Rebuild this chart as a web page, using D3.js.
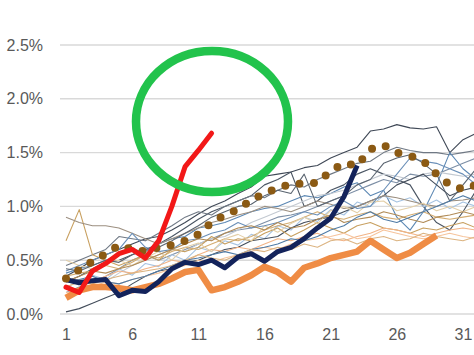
<!DOCTYPE html>
<html><head><meta charset="utf-8">
<script src="https://cdn.jsdelivr.net/npm/d3@7"></script>
<style>
html,body{margin:0;padding:0;background:#fff;}
svg{display:block;}
text{font-family:"Liberation Sans",Arial,sans-serif;fill:#595959;}
</style></head>
<body>
<svg id="c" width="474" height="355"></svg>
<script>
// ---- data (values in %) ----
const xTicks = [1, 6, 11, 16, 21, 26, 31];
const yTicks = [0, 0.5, 1.0, 1.5, 2.0, 2.5];

const thinColors = ["#3f4856","#4a5563","#6f7884","#5b87b3","#7d8fa6","#a7c4e2","#c3c9d1","#434d5b",
  "#c8a060","#9c8f80","#f2b487","#d4ad72","#e3cfa8","#f6c49c","#6a8fb8","#b08a55","#5a6470","#4f7ba6","#dcb482"];
const thinSeries = [
  [0.35,0.42,0.5,0.55,0.6,0.65,0.7,0.72,0.78,0.85,0.93,1.0,1.05,1.12,1.18,1.28,1.3,1.32,1.36,1.38,1.45,1.5,1.55,1.7,1.72,1.76,1.73,1.72,1.74,1.5,1.62,1.68],
  [0.3,0.35,0.42,0.48,0.5,0.55,0.6,0.65,0.72,0.8,0.88,0.95,1.0,1.05,1.1,1.2,1.25,1.32,1.0,1.05,1.15,1.2,1.3,1.35,1.3,1.25,1.2,1.0,0.85,0.78,0.95,1.15],
  [0.45,0.5,0.55,0.6,0.72,0.7,0.68,0.75,0.82,0.9,0.95,0.92,1.0,1.05,1.1,1.08,1.15,1.2,1.18,1.25,1.3,1.35,1.4,1.42,1.5,1.55,1.52,1.5,1.5,1.48,1.5,1.52],
  [0.38,0.42,0.45,0.5,0.55,0.6,0.58,0.65,0.7,0.72,0.8,0.82,0.85,0.9,0.95,0.98,1.0,1.05,1.1,1.08,1.12,1.18,1.22,1.1,1.15,0.9,0.78,0.95,1.2,1.5,1.35,1.25],
  [0.2,0.25,0.3,0.35,0.42,0.5,0.55,0.5,0.55,0.6,0.65,0.7,0.75,0.78,0.8,0.85,0.9,0.92,0.95,1.0,1.05,1.1,1.15,1.2,1.25,1.22,1.3,1.28,1.3,1.35,1.4,1.45],
  [0.3,0.28,0.36,0.32,0.42,0.36,0.47,0.44,0.55,0.5,0.62,0.58,0.68,0.64,0.74,0.7,0.82,0.78,0.9,0.86,0.97,0.92,1.04,1.0,1.1,1.04,1.08,1.0,1.06,0.98,1.04,1.0],
  [0.25,0.3,0.35,0.3,0.38,0.45,0.5,0.55,0.6,0.58,0.65,0.7,0.72,0.78,0.85,0.9,0.95,1.0,1.05,1.1,1.12,1.15,1.2,1.25,1.3,1.28,1.25,1.3,1.32,1.3,1.28,1.3],
  [0.02,0.05,0.1,0.15,0.2,0.28,0.35,0.4,0.42,0.48,0.5,0.55,0.6,0.62,0.68,0.7,0.72,0.8,0.85,0.88,0.9,0.95,1.0,1.05,1.1,1.2,1.25,1.3,1.2,1.1,1.15,1.18],
  [0.68,0.97,0.55,0.5,0.45,0.5,0.55,0.5,0.6,0.58,0.62,0.72,0.65,0.7,0.68,0.75,0.8,0.72,0.78,0.85,0.8,0.75,0.82,0.85,0.8,0.78,0.75,0.8,0.78,0.82,0.85,0.8],
  [0.9,0.85,0.82,0.82,0.8,0.75,0.7,0.65,0.7,0.75,0.8,0.85,0.88,0.92,0.95,1.0,0.98,0.95,1.0,1.05,1.02,0.98,1.0,1.05,1.1,1.08,1.05,1.02,1.0,1.05,1.06,1.08],
  [0.3,0.32,0.3,0.35,0.4,0.38,0.42,0.45,0.5,0.48,0.55,0.6,0.58,0.62,0.6,0.65,0.7,0.68,0.72,0.75,0.7,0.68,0.72,0.75,0.8,0.78,0.75,0.72,0.75,0.78,0.8,0.78],
  [0.35,0.38,0.4,0.45,0.42,0.48,0.55,0.52,0.58,0.62,0.6,0.65,0.7,0.68,0.72,0.78,0.82,0.85,0.9,0.95,0.9,0.88,0.92,0.95,0.9,0.88,0.92,0.95,0.9,0.88,0.9,0.92],
  [0.5,0.45,0.42,0.48,0.5,0.45,0.52,0.58,0.5,0.62,0.66,0.58,0.7,0.74,0.68,0.82,0.76,0.84,0.9,0.84,0.96,1.0,0.94,1.04,1.05,0.96,0.99,1.03,0.96,1.0,0.95,1.0],
  [0.2,0.22,0.25,0.3,0.28,0.32,0.35,0.38,0.42,0.45,0.5,0.48,0.52,0.55,0.58,0.62,0.6,0.65,0.68,0.7,0.72,0.75,0.7,0.72,0.78,0.75,0.72,0.7,0.72,0.75,0.72,0.7],
  [0.4,0.45,0.5,0.55,0.6,0.75,0.62,0.58,0.6,0.68,0.7,0.75,0.78,0.85,0.8,0.82,0.85,0.9,0.95,0.92,1.0,1.05,0.98,1.0,1.15,1.3,1.45,1.42,1.4,1.35,1.3,1.2],
  [0.3,0.35,0.4,0.38,0.42,0.45,0.5,0.55,0.6,0.65,0.7,0.68,0.75,0.8,0.82,0.78,0.85,0.8,0.82,0.88,0.92,0.85,0.88,0.9,0.95,0.92,0.88,0.85,0.9,0.92,0.95,0.92],
  [0.42,0.4,0.45,0.5,0.48,0.55,0.6,0.62,0.68,0.75,0.82,0.9,0.95,1.0,1.02,1.1,1.15,1.12,1.3,1.0,1.05,1.1,1.2,1.25,1.4,1.45,1.48,1.4,1.3,1.05,1.2,1.35],
  [0.3,0.32,0.35,0.3,0.28,0.32,0.35,0.4,0.45,0.5,0.52,0.55,0.58,0.55,0.6,0.62,0.65,0.7,0.68,0.72,0.78,0.82,0.9,0.95,0.88,0.85,0.9,0.95,1.0,1.05,1.1,1.05],
  [0.25,0.3,0.28,0.32,0.35,0.38,0.4,0.42,0.45,0.5,0.55,0.52,0.5,0.55,0.6,0.58,0.62,0.6,0.65,0.62,0.68,0.7,0.65,0.7,0.72,0.68,0.7,0.75,0.72,0.7,0.68,0.72]
];
const orangeSeries = [0.15,0.22,0.25,0.25,0.24,0.22,0.25,0.28,0.33,0.39,0.41,0.22,0.25,0.3,0.36,0.44,0.39,0.30,0.43,0.47,0.52,0.55,0.58,0.68,0.6,0.52,0.57,0.65,0.73];
const navySeries = [0.32,0.29,0.31,0.32,0.17,0.22,0.21,0.3,0.42,0.48,0.46,0.5,0.43,0.53,0.56,0.49,0.58,0.62,0.7,0.8,0.89,1.09,1.38];
const brownSeries = [0.33,0.41,0.49,0.56,0.64,0.6,0.58,0.62,0.64,0.68,0.74,0.85,0.92,0.97,1.06,1.12,1.17,1.21,1.21,1.22,1.33,1.4,1.38,1.53,1.57,1.5,1.47,1.42,1.3,1.2,1.16,1.2];
const redSeries = [0.25,0.2,0.4,0.47,0.56,0.6,0.52,0.68,1.0,1.37,1.52,1.68];

// ---- scales ----
const svg = d3.select("#c");
const x = d3.scaleLinear().domain([1, 31]).range([66, 463]);
const y = d3.scaleLinear().domain([0, 2.5]).range([314, 45]);

// gridlines
svg.append("g").selectAll("line").data(yTicks).join("line")
  .attr("x1", 60).attr("x2", 474)
  .attr("y1", d => y(d)).attr("y2", d => y(d))
  .attr("stroke", "#d9d9d9").attr("stroke-width", 1.4);

// y axis labels
const yAxis = d3.axisLeft(y).tickValues(yTicks).tickFormat(d => d.toFixed(1) + "%").tickSize(0).tickPadding(0);
const gy = svg.append("g").attr("transform", "translate(43,0)").call(yAxis);
gy.select(".domain").remove();
gy.selectAll("text").attr("font-size", 16).style("fill", "#595959")
  .attr("font-family", "Liberation Sans, Arial, sans-serif");

// x axis labels
const xAxis = d3.axisBottom(x).tickValues(xTicks).tickFormat(d3.format("d")).tickSize(0).tickPadding(0);
const gx = svg.append("g").attr("transform", "translate(0,329)").call(xAxis);
gx.select(".domain").remove();
gx.selectAll("text").attr("font-size", 16).style("fill", "#595959")
  .attr("font-family", "Liberation Sans, Arial, sans-serif");

const line = d3.line().x((d, i) => x(i + 1)).y(d => y(d));

// thin lines
svg.append("g").selectAll("path").data(thinSeries).join("path")
  .attr("d", line).attr("fill", "none")
  .attr("stroke", (d, i) => thinColors[i]).attr("stroke-width", 1.1)
  .attr("stroke-linejoin", "round");

svg.append("path").datum(orangeSeries).attr("d", line).attr("fill", "none")
  .attr("stroke", "#ef8c45").attr("stroke-width", 6.5).attr("stroke-linejoin", "round");

svg.append("path").datum(navySeries).attr("d", line).attr("fill", "none")
  .attr("stroke", "#13235b").attr("stroke-width", 5).attr("stroke-linejoin", "round");

svg.append("path").datum(brownSeries).attr("d", line).attr("fill", "none")
  .attr("stroke", "#8b5a14").attr("stroke-width", 8)
  .attr("stroke-linecap", "round").attr("stroke-dasharray", "0 14.5");

svg.append("path").datum(redSeries).attr("d", line).attr("fill", "none")
  .attr("stroke", "#f21818").attr("stroke-width", 5).attr("stroke-linejoin", "round")
  .attr("stroke-linecap", "round");

// highlight ellipse
svg.append("ellipse").attr("cx", 212).attr("cy", 121.5).attr("rx", 76).attr("ry", 70.5)
  .attr("fill", "none").attr("stroke", "#22c34c").attr("stroke-width", 8.5);
</script>
</body></html>
